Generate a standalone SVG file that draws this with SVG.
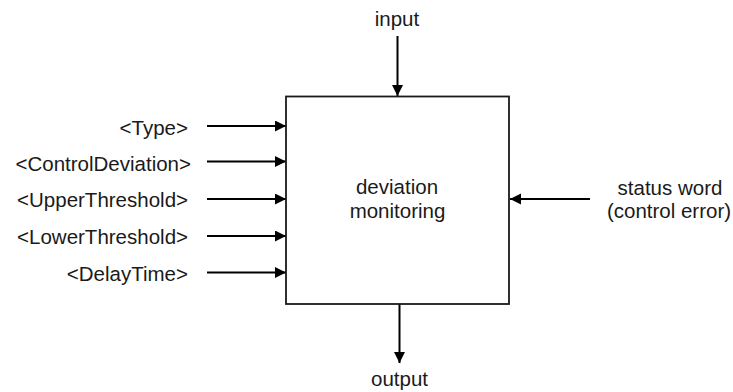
<svg xmlns="http://www.w3.org/2000/svg" width="733" height="392" viewBox="0 0 733 392">
<style>
text{font-family:"Liberation Sans",Arial,sans-serif;font-size:20.5px;fill:#1a1a1a}
.l{text-anchor:end}
.c{text-anchor:middle}
.box{fill:#fff;stroke:#1a1a1a;stroke-width:1.8}
.cn{stroke:#000;stroke-width:2;fill:none;marker-end:url(#ah)}
</style>
<defs>
<marker id="ah" markerUnits="userSpaceOnUse" markerWidth="12" markerHeight="12" refX="11" refY="5.5" orient="auto">
<path d="M0,0 L11,5.5 L0,11 Z" fill="#000"/>
</marker>
</defs>
<rect width="733" height="392" fill="#fff"/>
<g id="connectors">
<line class="cn" x1="397.5" y1="36" x2="397.5" y2="96"/>
<line class="cn" x1="399.5" y1="304" x2="399.5" y2="363"/>
<line class="cn" x1="207" y1="126" x2="286" y2="126"/>
<line class="cn" x1="207" y1="161.5" x2="286" y2="161.5"/>
<line class="cn" x1="207" y1="199" x2="286" y2="199"/>
<line class="cn" x1="207" y1="236" x2="286" y2="236"/>
<line class="cn" x1="207" y1="272.5" x2="286" y2="272.5"/>
<line class="cn" x1="590" y1="199" x2="510" y2="199"/>
</g>
<g id="block">
<rect class="box" x="286" y="96.5" width="223" height="207.5"/>
<text class="c" x="397" y="194.3">deviation</text>
<text class="c" x="397.5" y="218">monitoring</text>
</g>
<g id="input"><text class="c" x="397" y="26">input</text></g>
<g id="output"><text class="c" x="399.5" y="386">output</text></g>
<g id="type"><text class="l" x="188" y="134.5">&lt;Type&gt;</text></g>
<g id="controldeviation"><text class="l" x="191" y="170.5">&lt;ControlDeviation&gt;</text></g>
<g id="upperthreshold"><text class="l" x="188" y="207">&lt;UpperThreshold&gt;</text></g>
<g id="lowerthreshold"><text class="l" x="188" y="243.5">&lt;LowerThreshold&gt;</text></g>
<g id="delaytime"><text class="l" x="188" y="280.5">&lt;DelayTime&gt;</text></g>
<g id="statusword">
<text class="c" x="670" y="195">status word</text>
<text class="c" x="669" y="218">(control error)</text>
</g>
</svg>
